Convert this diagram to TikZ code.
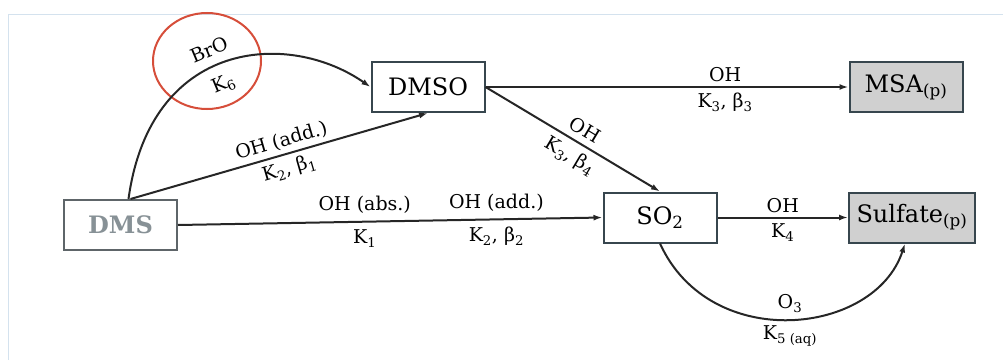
\documentclass[tikz,border=0pt]{standalone}
\usepackage{fontspec}
\setmainfont{DejaVu Serif}
\usepackage{xcolor}
\usetikzlibrary{shapes,arrows,positioning,shapes.geometric,arrows.meta}
\definecolor{boxline}{RGB}{55,70,78}
\definecolor{prodgray}{RGB}{208,208,208}
\definecolor{dmsgray}{RGB}{135,145,150}
\definecolor{circred}{RGB}{214,78,58}
\definecolor{framecol}{RGB}{212,226,238}

\begin{document}
\begin{tikzpicture}[x=1pt, y=1pt,
    species/.style={draw=boxline, line width=2pt, rectangle, minimum width=113pt, minimum height=50pt, inner sep=6pt, font=\fontsize{24}{28}\selectfont},
    product/.style={species, fill=prodgray},
    rxn/.style={draw=black!85, line width=2pt, -{Latex[length=9pt,width=6pt]}},
    lbl/.style={font=\fontsize{19}{23}\selectfont, inner sep=2pt}]
  \useasboundingbox (0,0) rectangle (1003,360);
  \draw[framecol, line width=0.8pt] (8,0) -- (8,346) -- (1003,346);

  % species
  \node[species, draw=dmsgray!70!black, text=dmsgray, font=\fontsize{24}{28}\selectfont\bfseries] (dms) at (120.5,135) {DMS};
  \node[species] (dmso) at (428,273) {DMSO};
  \node[product] (msa) at (906,273) {MSA\textsubscript{(p)}};
  \node[species] (so2) at (660,142.5) {SO\textsubscript{2}};
  \node[product, minimum width=126pt] (sulfate) at (912,142.5) {Sulfate\textsubscript{(p)}};
  \node[draw=circred, line width=2pt, ellipse, minimum width=108pt, minimum height=96pt] (brocirc) at (207,299) {};

  % reactions
  \draw[rxn] ([xshift=8pt]dms.north) .. controls +(22,160) and +(-82,57) .. (dmso.west)
    node[lbl, pos=0.46, above=7pt, sloped] {BrO}
    node[lbl, pos=0.46, below=8pt, sloped] {K\textsubscript{6}};
  \draw[rxn] ([xshift=10pt]dms.north) -- (dmso.south)
    node[lbl, pos=0.52, above=2pt, sloped] {OH (add.)}
    node[lbl, pos=0.52, below=3pt, sloped] {K\textsubscript{2}, β\textsubscript{1}};
  \draw[rxn] (dms.east) -- (so2.west)
    node[lbl, pos=0.44, above=5pt] {OH (abs.)}
    node[lbl, pos=0.44, below=5pt] {K\textsubscript{1}}
    node[lbl, pos=0.75, above=5pt] {OH (add.)}
    node[lbl, pos=0.75, below=5pt] {K\textsubscript{2}, β\textsubscript{2}};
  \draw[rxn] (dmso.east) -- (msa.west)
    node[lbl, pos=0.66, above=2pt] {OH}
    node[lbl, pos=0.66, below=3pt] {K\textsubscript{3}, β\textsubscript{3}};
  \draw[rxn] (dmso.east) -- (so2.north)
    node[lbl, pos=0.53, above=4pt, sloped] {OH}
    node[lbl, pos=0.53, below=4pt, sloped] {K\textsubscript{3}, β\textsubscript{4}};
  \draw[rxn] (so2.east) -- (sulfate.west)
    node[lbl, midway, above=2pt] {OH}
    node[lbl, midway, below=3pt] {K\textsubscript{4}};
  \draw[rxn] (so2.south) .. controls +(50,-110) and +(-30,-92) .. ([xshift=-7pt]sulfate.south)
    node[lbl, pos=0.5, above=4pt] {O\textsubscript{3}}
    node[lbl, pos=0.5, below=3pt] {K\textsubscript{5 (aq)}};
\end{tikzpicture}
\end{document}
